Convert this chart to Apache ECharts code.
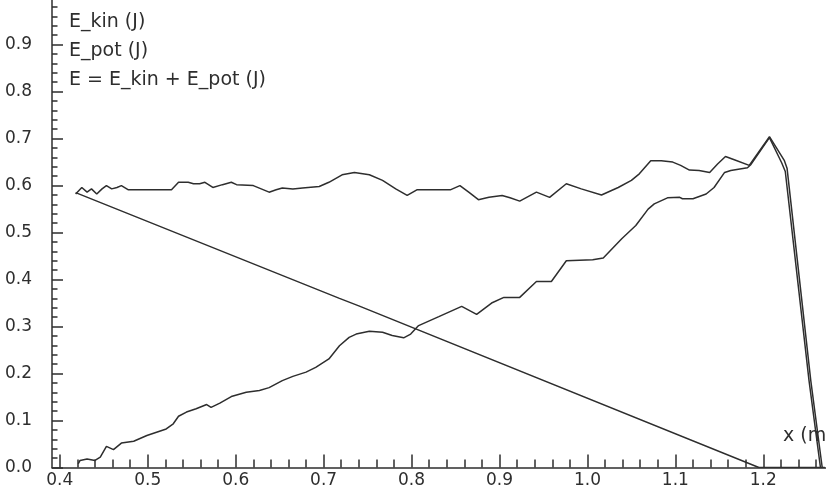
<!DOCTYPE html>
<html>
<head>
<meta charset="utf-8">
<script src="https://cdn.jsdelivr.net/npm/echarts@6/dist/echarts.min.js"></script>
<style>
  html, body { margin: 0; padding: 0; background: #fff; }
  #EnergyChart { width: 826px; height: 492px; }
</style>
</head>
<body>
<div id="EnergyChart"></div>
<script>
// values
const kinX = [0.421, 0.423, 0.431, 0.440, 0.446, 0.453, 0.461, 0.470, 0.484, 0.499, 0.510, 0.521, 0.529, 0.535, 0.544, 0.555, 0.567, 0.572, 0.582, 0.595, 0.612, 0.627, 0.638, 0.653, 0.665, 0.680, 0.691, 0.706, 0.718, 0.729, 0.737, 0.752, 0.767, 0.778, 0.791, 0.799, 0.808, 0.831, 0.857, 0.874, 0.891, 0.905, 0.923, 0.942, 0.959, 0.976, 1.006, 1.018, 1.039, 1.055, 1.069, 1.076, 1.091, 1.105, 1.108, 1.120, 1.135, 1.144, 1.156, 1.163, 1.182, 1.186, 1.207, 1.221, 1.225, 1.252, 1.265];
const kinY = [0.008, 0.015, 0.018, 0.015, 0.022, 0.045, 0.038, 0.052, 0.056, 0.068, 0.075, 0.082, 0.093, 0.109, 0.118, 0.125, 0.134, 0.128, 0.137, 0.151, 0.160, 0.164, 0.170, 0.185, 0.194, 0.203, 0.213, 0.231, 0.259, 0.277, 0.284, 0.290, 0.288, 0.281, 0.276, 0.284, 0.302, 0.321, 0.343, 0.326, 0.350, 0.362, 0.362, 0.396, 0.396, 0.440, 0.442, 0.446, 0.487, 0.515, 0.550, 0.561, 0.574, 0.575, 0.572, 0.572, 0.582, 0.596, 0.628, 0.632, 0.638, 0.645, 0.702, 0.648, 0.630, 0.185, 0.000];

const potX = [0.418, 0.718, 0.740, 1.195, 1.270];
const potY = [0.585, 0.360, 0.344, 0.000, 0.000];

const totX = [0.418, 0.425, 0.431, 0.436, 0.442, 0.448, 0.453, 0.459, 0.465, 0.470, 0.478, 0.527, 0.535, 0.546, 0.552, 0.559, 0.565, 0.574, 0.585, 0.595, 0.601, 0.620, 0.629, 0.638, 0.646, 0.653, 0.665, 0.676, 0.695, 0.706, 0.721, 0.735, 0.752, 0.767, 0.782, 0.795, 0.806, 0.844, 0.855, 0.865, 0.876, 0.888, 0.903, 0.912, 0.923, 0.933, 0.942, 0.957, 0.976, 0.993, 1.016, 1.035, 1.050, 1.059, 1.072, 1.084, 1.097, 1.106, 1.116, 1.127, 1.139, 1.148, 1.157, 1.167, 1.184, 1.207, 1.224, 1.227, 1.254, 1.267];
const totY = [0.582, 0.596, 0.586, 0.593, 0.582, 0.593, 0.600, 0.593, 0.596, 0.600, 0.591, 0.591, 0.607, 0.607, 0.604, 0.604, 0.607, 0.596, 0.602, 0.607, 0.602, 0.600, 0.593, 0.586, 0.591, 0.595, 0.593, 0.595, 0.598, 0.607, 0.623, 0.628, 0.623, 0.611, 0.593, 0.579, 0.591, 0.591, 0.600, 0.586, 0.570, 0.575, 0.579, 0.574, 0.567, 0.577, 0.586, 0.575, 0.604, 0.593, 0.580, 0.596, 0.611, 0.625, 0.653, 0.653, 0.650, 0.643, 0.633, 0.632, 0.628, 0.646, 0.662, 0.655, 0.643, 0.704, 0.653, 0.637, 0.185, 0.000];

const seriesNames = ['E_kin (J)', 'E_pot (J)', 'E = E_kin + E_pot (J)'];
const xMajor = [0.4, 0.5, 0.6, 0.7, 0.8, 0.9, 1.0, 1.1, 1.2];
const yMajor = [0.0, 0.1, 0.2, 0.3, 0.4, 0.5, 0.6, 0.7, 0.8, 0.9];

// minor ticks every 0.02
const xMinor = [];
for (let i = 20; i <= 63; i++) { if (i % 5 !== 0) xMinor.push(i * 0.02); }
const yMinor = [];
for (let i = 1; i <= 49; i++) { if (i % 5 !== 0) yMinor.push(i * 0.02); }

const zip = (xs, ys) => xs.map((x, i) => [x, ys[i]]);

const FONT = 'DejaVu Sans';
const INK = '#2e2e2e';

const myChart = echarts.init(document.getElementById('EnergyChart'));

const xBase = {
  type: 'value',
  min: 0.3911,
  max: 1.2713,
  position: 'bottom',
  offset: 0,
  splitLine: { show: false },
};
const yBase = {
  type: 'value',
  min: 0,
  max: 0.995,
  position: 'left',
  offset: 0,
  splitLine: { show: false },
};

const lineSeries = (name, data) => ({
  name: name,
  type: 'line',
  data: data,
  symbol: 'none',
  showSymbol: false,
  xAxisIndex: 0,
  yAxisIndex: 0,
  lineStyle: { color: INK, width: 1.5 },
  itemStyle: { color: INK },
});

const option = {
  animation: false,
  backgroundColor: '#fff',
  textStyle: { fontFamily: FONT },
  grid: { left: 52, right: 0, top: 0, bottom: 24.5, containLabel: false, outerBoundsMode: 'none' },
  legend: {
    data: seriesNames,
    orient: 'vertical',
    left: 59,
    top: 7,
    itemWidth: 0,
    itemHeight: 0,
    itemGap: 9,
    icon: 'rect',
    textStyle: { fontSize: 19, color: INK, fontFamily: FONT, lineHeight: 20 },
  },
  xAxis: [
    Object.assign({}, xBase, {
      axisLine: { show: true, lineStyle: { color: INK, width: 1.5 } },
      axisTick: { inside: true, length: 13, customValues: xMajor, lineStyle: { color: INK, width: 1.5 } },
      axisLabel: {
        customValues: xMajor,
        formatter: (v) => v.toFixed(1),
        fontSize: 17,
        color: INK,
        margin: 5,
        fontFamily: FONT,
      },
    }),
    Object.assign({}, xBase, {
      axisLine: { show: false },
      axisTick: { inside: true, length: 8, customValues: xMinor, lineStyle: { color: INK, width: 1.5 } },
      axisLabel: { show: false },
    }),
  ],
  yAxis: [
    Object.assign({}, yBase, {
      axisLine: { show: true, lineStyle: { color: INK, width: 1.5 } },
      axisTick: { inside: true, length: 11, customValues: yMajor, lineStyle: { color: INK, width: 1.5 } },
      axisLabel: {
        customValues: yMajor,
        formatter: (v) => v.toFixed(1),
        fontSize: 17,
        color: INK,
        margin: 20,
        fontFamily: FONT,
      },
    }),
    Object.assign({}, yBase, {
      axisLine: { show: false },
      axisTick: { inside: true, length: 5.5, customValues: yMinor, lineStyle: { color: INK, width: 1.5 } },
      axisLabel: { show: false },
    }),
  ],
  graphic: [
    {
      type: 'text',
      left: 783,
      top: 427,
      style: { text: 'x (m)', fontSize: 19, fill: INK, fontFamily: FONT },
    },
  ],
  series: [
    lineSeries(seriesNames[0], zip(kinX, kinY)),
    lineSeries(seriesNames[1], zip(potX, potY)),
    lineSeries(seriesNames[2], zip(totX, totY)),
  ],
};

myChart.setOption(option);
</script>
</body>
</html>
